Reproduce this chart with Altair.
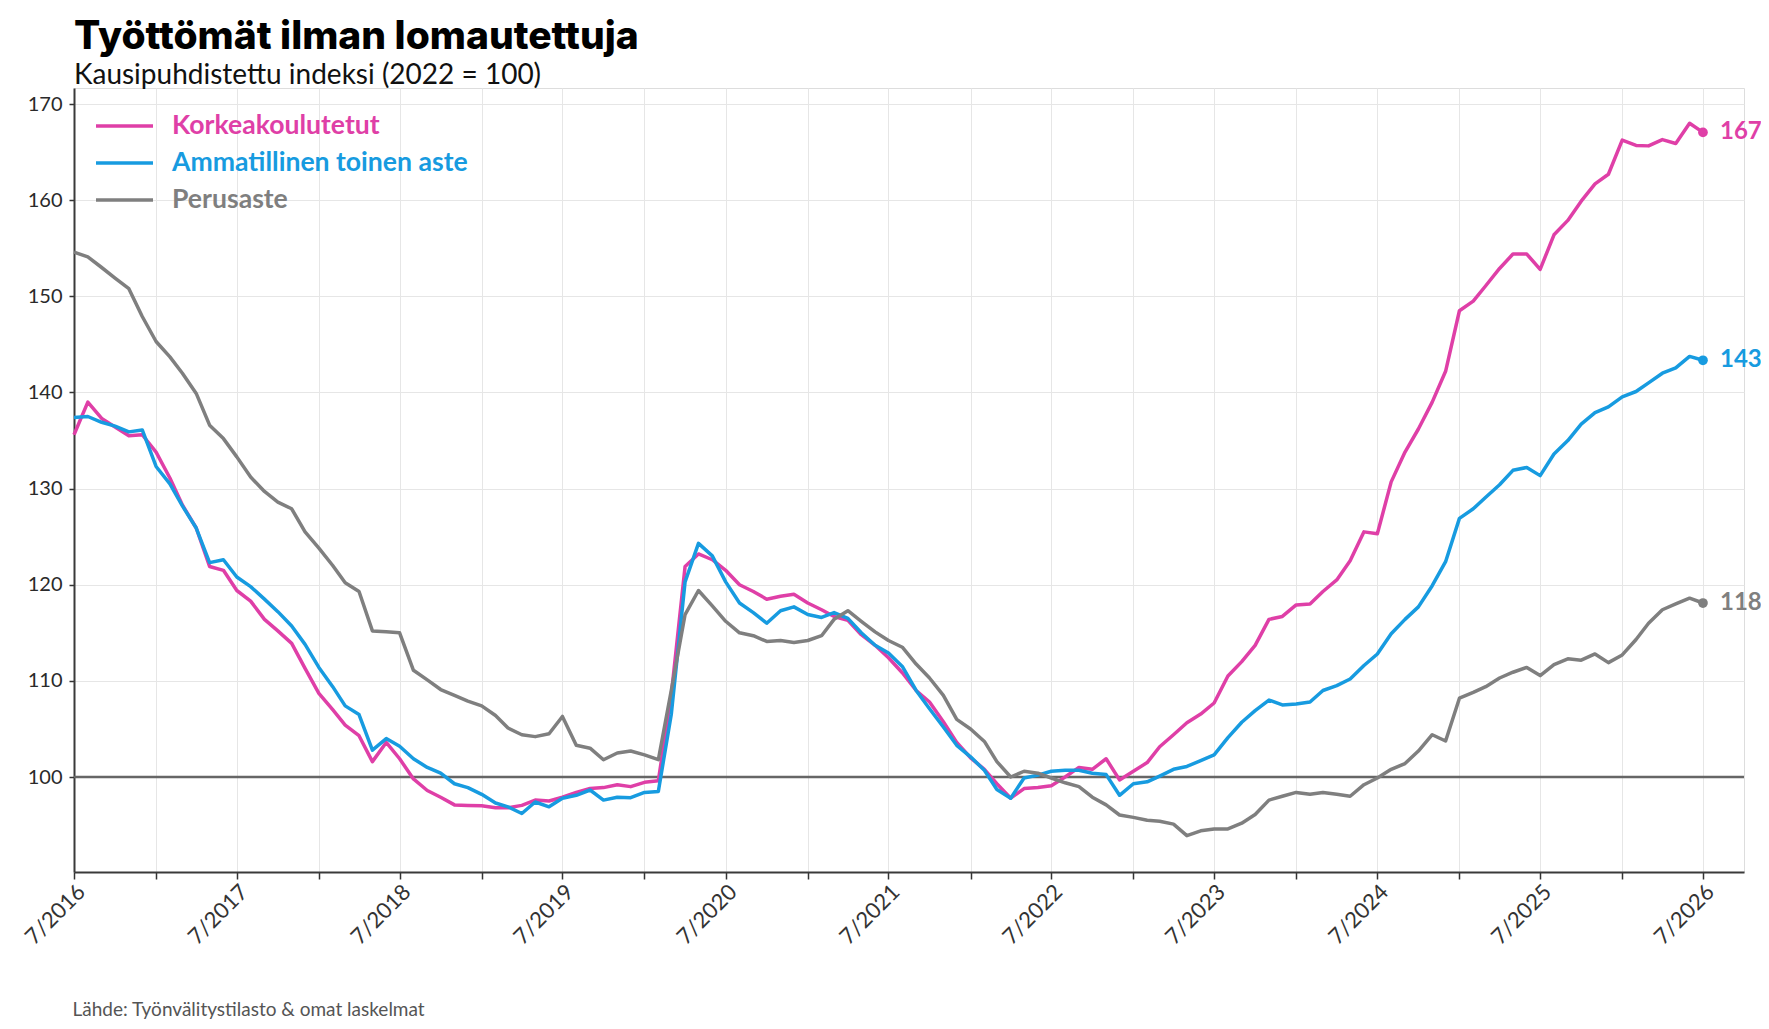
import altair as alt
import pandas as pd

# ---- data (monthly, 7/2016 ... 7/2026) ----
korkea = [
    135.6, 139.0, 137.3, 136.4, 135.5, 135.6, 133.8, 131.1, 128.3, 125.9,
    121.9, 121.5, 119.4, 118.3, 116.4, 115.2, 113.9, 111.3, 108.7, 107.0,
    105.4, 104.3, 101.6, 103.6, 101.9, 99.8, 98.6, 97.9, 97.1, 97.05,
    97.0, 96.8, 96.8, 97.05, 97.6, 97.5, 97.9, 98.4, 98.8, 98.9,
    99.2, 99.0, 99.45, 99.6, 108.5, 121.9, 123.2, 122.6, 121.5, 120.0,
    119.3, 118.5, 118.8, 119.0, 118.1, 117.4, 116.7, 116.3, 114.8, 113.7,
    112.4, 110.85, 109.0, 107.8, 105.75, 103.6, 102.0, 100.8, 99.3, 97.8,
    98.8, 98.9, 99.1, 100.0, 101.0, 100.8, 101.9, 99.7, 100.6, 101.5,
    103.15, 104.4, 105.65, 106.55, 107.7, 110.5, 112.0, 113.7, 116.4, 116.7,
    117.9, 118.0, 119.3, 120.5, 122.5, 125.5, 125.3, 130.7, 133.8, 136.2,
    139.0, 142.2, 148.5, 149.5, 151.1, 152.9, 154.4, 154.4, 152.8, 156.4,
    157.9, 159.9, 161.7, 162.7, 166.25, 165.7, 165.65, 166.3, 165.9, 168.0,
    167.05,
]
ammatillinen = [
    137.4, 137.5, 136.9, 136.5, 135.9, 136.1, 132.3, 130.5, 128.2, 125.9,
    122.3, 122.6, 120.8, 119.8, 118.5, 117.2, 115.7, 113.8, 111.4, 109.4,
    107.4, 106.5, 102.8, 104.0, 103.2, 101.9, 101.0, 100.4, 99.3, 98.9,
    98.2, 97.3, 96.9, 96.2, 97.4, 96.9, 97.8, 98.1, 98.65, 97.6,
    97.9, 97.85, 98.4, 98.5, 106.5, 120.3, 124.3, 123.0, 120.3, 118.1,
    117.1, 116.0, 117.3, 117.7, 116.9, 116.6, 117.1, 116.5, 115.0, 113.7,
    112.9, 111.5, 109.0, 107.1, 105.2, 103.3, 102.1, 100.7, 98.7, 97.8,
    99.9, 100.2, 100.6, 100.7, 100.7, 100.4, 100.25, 98.1, 99.3, 99.5,
    100.1, 100.8, 101.1, 101.7, 102.3, 104.1, 105.7, 106.9, 108.0, 107.5,
    107.6, 107.8, 109.0, 109.5, 110.2, 111.6, 112.8, 114.9, 116.4, 117.7,
    119.9, 122.4, 126.9, 127.9, 129.1, 130.4, 131.9, 132.2, 131.35, 133.6,
    135.0, 136.7, 137.9, 138.5, 139.55, 140.1, 141.0, 142.0, 142.55, 143.75,
    143.35,
]
perusaste = [
    154.6, 154.1, 153.0, 151.9, 150.8, 147.9, 145.3, 143.7, 142.0, 139.9,
    136.6, 135.2, 133.3, 131.2, 129.7, 128.6, 127.9, 125.5, 123.8, 122.0,
    120.2, 119.3, 115.2, 115.1, 115.0, 111.1, 110.1, 109.1, 108.5, 107.9,
    107.4, 106.4, 105.1, 104.4, 104.2, 104.5, 106.3, 103.3, 103.0, 101.8,
    102.5, 102.7, 102.3, 101.8, 109.0, 116.9, 119.4, 117.8, 116.2, 115.0,
    114.7, 114.1, 114.2, 114.0, 114.2, 114.7, 116.4, 117.3, 116.2, 115.1,
    114.2, 113.5, 111.75, 110.3, 108.5, 106.0, 105.0, 103.7, 101.6, 100.0,
    100.6, 100.4, 99.9, 99.4, 99.0, 97.9, 97.1, 96.05, 95.8, 95.5,
    95.4, 95.1, 93.9, 94.4, 94.6, 94.6, 95.2, 96.1, 97.6, 98.0,
    98.4, 98.2, 98.4, 98.2, 98.0, 99.2, 99.9, 100.8, 101.4, 102.7,
    104.4, 103.75, 108.2, 108.8, 109.4, 110.3, 110.9, 111.4, 110.55, 111.7,
    112.3, 112.15, 112.8, 111.9, 112.7, 114.3, 116.0, 117.4, 118.0, 118.6,
    118.1,
]

series_names = ["Korkeakoulutetut", "Ammatillinen toinen aste", "Perusaste"]
series_colors = ["#df3fa7", "#179be0", "#7f7f7f"]
series_values = [korkea, ammatillinen, perusaste]

dates = pd.date_range("2016-07-01", periods=len(korkea), freq="MS").strftime("%Y-%m-%d").tolist()
tick_dates = pd.date_range("2016-07-01", "2026-07-01", freq="6MS")

rows = []
for name, vals in zip(series_names, series_values):
    for d, v in zip(dates, vals):
        rows.append({"date": d, "series": name, "value": v})
df = pd.DataFrame(rows)

last = pd.DataFrame({
    "date": [dates[-1]] * 3,
    "series": series_names,
    "value": [v[-1] for v in series_values],
    "label": [str(int(round(v[-1]))) for v in series_values],
})

FONT = "Lato"
W, H = 1670, 784

def dt(ts):
    return alt.DateTime(year=ts.year, month=ts.month, date=ts.day, utc=True)

x_scale = alt.Scale(type="utc", domain=[dt(pd.Timestamp("2016-07-01")), dt(pd.Timestamp("2026-10-01"))], nice=False)
y_scale = alt.Scale(domain=[90.12, 171.67], nice=False, zero=False)
color_scale = alt.Scale(domain=series_names, range=series_colors)

label_color_expr = (
    "datum.label == 'Korkeakoulutetut' ? '%s' : datum.label == 'Ammatillinen toinen aste' ? '%s' : '%s'"
    % tuple(series_colors)
)

x_axis = alt.Axis(
    values=[dt(t) for t in tick_dates],
    labelExpr="utcmonth(datum.value) == 6 ? '7/' + utcyear(datum.value) : ''",
    labelAngle=315, labelAlign="right", labelBaseline="top",
    labelFontSize=22, labelColor="#333333", labelPadding=2, labelFont=FONT,
    tickSize=7, tickColor="#333333", tickWidth=1.5,
    domainColor="#3a3a3a", domainWidth=2,
    grid=True, gridColor="#e6e6e6", gridWidth=1,
    title="Lähde: Työnvälitystilasto & omat laskelmat",
    titleX=-2, titleY=143, titleAlign="left", titleBaseline="alphabetic",
    titleFontSize=19, titleFontWeight="normal", titleColor="#555555", titleFont=FONT,
    labelOverlap=False,
)
y_axis = alt.Axis(
    values=[100, 110, 120, 130, 140, 150, 160, 170],
    labelFontSize=20, labelColor="#2a2a2a", labelPadding=7, labelFont=FONT,
    tickSize=5, tickColor="#333333", tickWidth=1.5,
    domainColor="#3a3a3a", domainWidth=2,
    grid=True, gridColor="#e6e6e6", gridWidth=1,
    title=None,
)

legend = alt.Legend(
    title=None, orient="none", legendX=20, legendY=23, padding=0,
    symbolType="stroke", symbolSize=3249, symbolStrokeWidth=3.5,
    clipHeight=30, rowPadding=7, labelOffset=17,
    labelFontSize=26.6, labelFont=FONT, labelFontWeight="bold",
    labelColor={"expr": label_color_expr}, labelLimit=0,
)

rule = alt.Chart(pd.DataFrame({"y": [100]})).mark_rule(color="#666666", strokeWidth=2.5).encode(
    y=alt.Y("y:Q", scale=y_scale, axis=y_axis)
)

lines = alt.Chart(df).mark_line(strokeWidth=3.5, strokeJoin="round").encode(
    x=alt.X("date:T", scale=x_scale, axis=x_axis),
    y=alt.Y("value:Q", scale=y_scale, axis=y_axis),
    color=alt.Color("series:N", scale=color_scale, legend=legend, sort=series_names),
)

dots = alt.Chart(last).mark_circle(size=95, opacity=1).encode(
    x=alt.X("date:T", scale=x_scale),
    y=alt.Y("value:Q", scale=y_scale),
    color=alt.Color("series:N", scale=color_scale, legend=None),
)

labels = alt.Chart(last).mark_text(
    align="left", baseline="middle", dx=17, fontSize=24, fontWeight="bold", font=FONT
).encode(
    x=alt.X("date:T", scale=x_scale),
    y=alt.Y("value:Q", scale=y_scale),
    text="label:N",
    color=alt.Color("series:N", scale=color_scale, legend=None),
)

chart = alt.layer(rule, lines, dots, labels).properties(
    width=W, height=H,
    padding={"left": 66, "top": 80, "right": 17, "bottom": 149},
    autosize=alt.AutoSizeParams(type="none"),
    title=alt.TitleParams(
        text="Työttömät ilman lomautettuja",
        subtitle="Kausipuhdistettu indeksi (2022 = 100)",
        anchor="start", frame="group", offset=-2,
        font="Inter", fontSize=39, fontWeight=800, color="#000000",
        subtitleFont=FONT, subtitleFontSize=28, subtitleColor="#111111",
        subtitlePadding=5.5,
    ),
).configure_view(stroke=None).configure(background="white")

chart.save("out.html", embed_options={"renderer": "svg", "actions": False})
